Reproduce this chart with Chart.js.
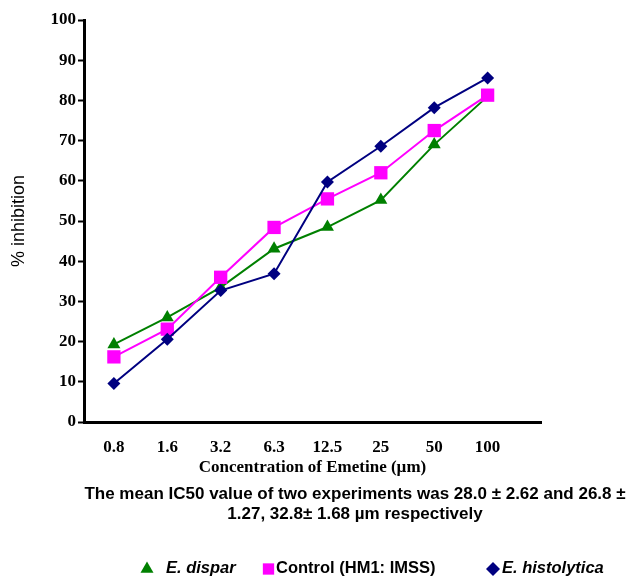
<!DOCTYPE html>
<html>
<head>
<meta charset="utf-8">
<script src="https://cdn.jsdelivr.net/npm/chart.js@4/dist/chart.umd.min.js"></script>
<style>
  html, body { margin: 0; padding: 0; background: #fff; }
  #wrap { width: 633px; height: 577px; position: relative; }
</style>
</head>
<body>
<div id="wrap"><canvas id="chart"></canvas></div>
<script>
// concentrations of emetine (µm)
const concLabels = ['0.8', '1.6', '3.2', '6.3', '12.5', '25', '50', '100'];
// % inhibition per strain
const disparValues = [19.3, 26.0, 33.5, 43.1, 48.5, 55.2, 69.0, 81.0];
const controlValues = [16.2, 23.1, 36.0, 48.4, 55.5, 62.0, 72.5, 81.3];
const histolyticaValues = [9.6, 20.6, 32.7, 36.9, 59.7, 68.6, 78.2, 85.6];
const yTicks = [0, 10, 20, 30, 40, 50, 60, 70, 80, 90, 100];

const seriesNames = ['E. dispar', 'Control (HM1: IMSS)', 'E. histolytica'];
const noteLines = [
    'The mean IC50 value of two experiments was 28.0 \u00b1 2.62 and 26.8 \u00b1',
    '1.27, 32.8\u00b1 1.68 \u00b5m respectively'
];

const GREEN = '#008000';
const PINK = '#ff00ff';
const NAVY = '#000080';

const toPoints = (arr) => arr.map((v, i) => ({ x: i, y: v }));

// caption + legend under the axis (legend text mixes italic / upright)
const bottomText = {
    id: 'bottomText',
    afterDraw(chart) {
        const ctx = chart.ctx;
        ctx.save();
        ctx.fillStyle = '#000';
        ctx.textAlign = 'center';
        ctx.textBaseline = 'middle';
        ctx.font = 'bold 17px "Liberation Sans", Arial, sans-serif';
        ctx.fillText(noteLines[0], 355, 494);
        ctx.fillText(noteLines[1], 355, 514);

        const items = [
            { name: seriesNames[0], color: GREEN, style: 'triangle', r: 7.5, mx: 147, tx: 166, italic: true },
            { name: seriesNames[1], color: PINK, style: 'rect', r: 8, mx: 268.5, tx: 276, italic: false },
            { name: seriesNames[2], color: NAVY, style: 'rectRot', r: 7, mx: 493, tx: 502, italic: true }
        ];
        const ly = 568;
        items.forEach((it) => {
            ctx.fillStyle = it.color;
            Chart.helpers.drawPoint(ctx, { pointStyle: it.style, radius: it.r, rotation: 0, borderWidth: 0 }, it.mx, ly + 1);
            ctx.fillStyle = '#000';
            ctx.textAlign = 'left';
            ctx.font = (it.italic ? 'italic ' : '') + 'bold 16.5px "Liberation Sans", Arial, sans-serif';
            ctx.fillText(it.name, it.tx, ly);
        });
        ctx.restore();
    }
};

new Chart(document.getElementById('chart'), {
    type: 'line',
    data: {
        datasets: [
            {
                label: seriesNames[2],
                data: toPoints(histolyticaValues),
                borderColor: NAVY,
                backgroundColor: NAVY,
                borderWidth: 2,
                pointStyle: 'rectRot',
                pointRadius: 6.5,
                pointBorderWidth: 0,
            },
            {
                label: seriesNames[1],
                data: toPoints(controlValues),
                borderColor: PINK,
                backgroundColor: PINK,
                borderWidth: 2,
                pointStyle: 'rect',
                pointRadius: 9.4,
                pointBorderWidth: 0,
            },
            {
                label: seriesNames[0],
                data: toPoints(disparValues),
                borderColor: GREEN,
                backgroundColor: GREEN,
                borderWidth: 2,
                pointStyle: 'triangle',
                pointRadius: 7.5,
                pointBorderWidth: 0,
            },
        ],
    },
    options: {
        responsive: true,
        maintainAspectRatio: false,
        animation: false,
        layout: {
            padding: { top: 20, right: 92, bottom: 95, left: 0 },
        },
        plugins: {
            legend: { display: false },
            tooltip: { enabled: false },
        },
        scales: {
            x: {
                type: 'linear',
                min: -0.56,
                max: 8,
                afterBuildTicks: (axis) => {
                    axis.ticks = concLabels.map((_, i) => ({ value: i }));
                },
                afterFit: (axis) => { axis.height = 60; },
                ticks: {
                    callback: (value) => concLabels[value],
                    color: '#000',
                    padding: 15,
                    maxRotation: 0,
                    font: { family: '"Liberation Serif", "Times New Roman", serif', size: 17, weight: 'bold' },
                },
                grid: { drawOnChartArea: false, drawTicks: false },
                border: { color: '#000', width: 3 },
                title: {
                    display: true,
                    text: 'Concentration of Emetine (\u00b5m)',
                    color: '#000',
                    padding: { top: 0, bottom: 4 },
                    font: { family: '"Liberation Serif", "Times New Roman", serif', size: 17, weight: 'bold' },
                },
            },
            y: {
                min: 0,
                max: 100,
                afterBuildTicks: (axis) => {
                    axis.ticks = yTicks.map((v) => ({ value: v }));
                },
                afterFit: (axis) => { axis.width = 84; },
                ticks: {
                    color: '#000',
                    padding: 2,
                    font: { family: '"Liberation Serif", "Times New Roman", serif', size: 17, weight: 'bold' },
                },
                grid: { drawOnChartArea: false, drawTicks: true, tickLength: 6, tickWidth: 2, tickColor: '#000' },
                border: { color: '#000', width: 3 },
                title: {
                    display: true,
                    text: '% inhibition',
                    color: '#000',
                    padding: { top: 8, bottom: 0 },
                    font: { family: '"Liberation Sans", Arial, sans-serif', size: 18, weight: 'normal' },
                },
            },
        },
    },
    plugins: [bottomText],
});
</script>
</body>
</html>
